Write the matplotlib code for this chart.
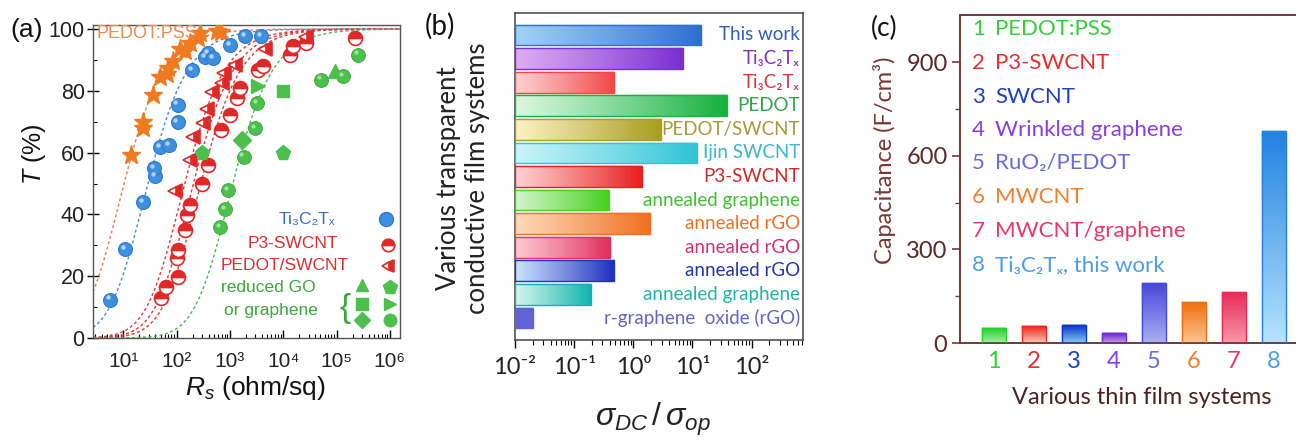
import numpy as np
import matplotlib
matplotlib.use('Agg')
import matplotlib.pyplot as plt
from matplotlib import transforms
from matplotlib.colors import to_rgb
from matplotlib.ticker import FixedLocator, NullFormatter, LogLocator

plt.rcParams['mathtext.fontset'] = 'custom'
plt.rcParams['mathtext.rm'] = 'Liberation Sans'
plt.rcParams['mathtext.it'] = 'Liberation Sans:italic'
plt.rcParams['mathtext.bf'] = 'Liberation Sans:bold'

# ---------------- panel (a) data ----------------
pedot_pss_rs = [14, 23.7, 23.7, 35.5, 49, 65, 69, 86, 115, 145, 178, 256, 275, 563, 690]
pedot_pss_t = [59.3, 68, 69.8, 78.7, 84.5, 85.5, 87.4, 89.5, 93.5, 92.8, 95.5, 97, 98.7, 99.2, 99]
ti3c2tx_rs = [5.6, 10.7, 23.7, 39, 38, 49, 73, 104, 104, 192, 340, 392, 487, 1000, 1920, 3900]
ti3c2tx_t = [12.4, 28.8, 44, 52.3, 55, 61.8, 62.4, 69.8, 75.5, 86.8, 90.9, 92.2, 90.6, 94.9, 97.8, 97.6]
p3_rs = [52, 63, 106, 100, 106, 144, 155, 178, 294, 392, 690, 1000, 1330, 1540, 3400, 4200,
         13300, 15400, 27000, 220000]
p3_t = [12.9, 16.6, 19.8, 26, 28.5, 35, 39.8, 43, 50, 56, 67.4, 72.3, 77.7, 81, 86.8, 88,
        91.7, 94.4, 95.5, 97]
pedot_swcnt_rs = [95, 178, 204, 316, 365, 455, 700, 760, 1240, 4600, 27000]
pedot_swcnt_t = [47.5, 57.6, 65, 69.6, 74, 79.7, 82.5, 85.8, 88.3, 93.5, 97.4]
go_circle_rs = [650, 800, 930, 1800, 2950, 3200, 52000, 133000, 250000]
go_circle_t = [35.9, 41.7, 47.8, 58.7, 68, 76, 83.6, 84.7, 91.7]
go_triangle = (93000, 86.3)
go_pentagon_rs = [294, 10000]
go_pentagon_t = [60, 60]
go_square = (10000, 79.8)
go_right = (3300, 81.6)
go_diamond = (1700, 64)
# sigma_DC/sigma_op of the dashed fit curves
fit_ratio = {'orange': 44, 'blue': 15.7, 'red1': 3.2, 'red2': 2.2, 'red3': 1.6, 'green': 0.4}

# ---------------- panel (b) data ----------------
b_labels = ['This work', 'Ti₃C₂Tₓ', 'Ti₃C₂Tₓ', 'PEDOT', 'PEDOT/SWCNT', 'Ijin SWCNT', 'P3-SWCNT',
            'annealed graphene', 'annealed rGO', 'annealed rGO', 'annealed rGO',
            'annealed graphene', 'r-graphene  oxide (rGO)']
b_values = [14, 7, 0.48, 38, 2.9, 12, 1.4, 0.39, 1.95, 0.41, 0.48, 0.195, 0.02]
b_light = ['#9fd0f5', '#dcaaf2', '#fdd0d0', '#d8f7de', '#faf0c0', '#c8f4f8', '#fdd0d0',
           '#d0f5c8', '#fdd8b8', '#fdc8d0', '#c8e0fa', '#d0f5ec', '#6262d8']
b_dark = ['#2f6fd0', '#7a2fd0', '#f04848', '#18b040', '#a89e20', '#30c4d6', '#e82020',
          '#48d020', '#f07020', '#e03060', '#2030c0', '#10b4ae', '#6262d8']
b_text = ['#2f5fb8', '#8030c0', '#e03040', '#30a448', '#a39c38', '#38b8c8', '#d02828',
          '#40c030', '#f07020', '#d83068', '#2434b0', '#20b4a8', '#6464c4']

# ---------------- panel (c) data ----------------
c_numbers = [1, 2, 3, 4, 5, 6, 7, 8]
c_names = ['PEDOT:PSS', 'P3-SWCNT', 'SWCNT', 'Wrinkled graphene', 'RuO₂/PEDOT', 'MWCNT',
           'MWCNT/graphene', 'Ti₃C₂Tₓ, this work']
c_values = [48, 55, 58, 32, 192, 133, 163, 680]
c_colors = ['#35cf3c', '#e83030', '#2040c0', '#8a3ee0', '#6a6ae0', '#f08030', '#e83a6a', '#4a9ee8']
c_top = ['#28d030', '#f02a20', '#1038c8', '#7030d0', '#4a48dc', '#f07010', '#e82c5c', '#2482e2']
c_bottom = ['#a8f2a8', '#fcc8b8', '#80ccf8', '#c8a0f2', '#a8b0f2', '#fcc494', '#f898a8', '#b4e2fc']

W, H = 1296, 440
fig = plt.figure(figsize=(W / 100, H / 100), dpi=100)


def fx(px):
    return px / W


def fy(py):
    return 1 - py / H


SANS_A = ['Liberation Sans', 'DejaVu Sans']
SANS_B = ['Lato', 'DejaVu Sans']

# ======================= panel (a) =======================
axA = fig.add_axes([fx(93), fy(338), (400 - 93) / W, (338 - 25) / H])
axA.set_xscale('log')
axA.set_xlim(2.7, 1.55e6)
axA.set_ylim(0, 101.3)

rs = np.logspace(np.log10(2.7), np.log10(1.55e6), 400)
curve_cols = {'orange': '#f07a48', 'blue': '#4a8ad8', 'red1': '#e23a3a', 'red2': '#e23a3a',
              'red3': '#e23a3a', 'green': '#4cb84c'}
for key, k in fit_ratio.items():
    t = 100.0 / (1 + 188.5 / (k * rs)) ** 2
    axA.plot(rs, t, ls=(0, (2.2, 1.8)), lw=1.0, color=curve_cols[key], zorder=2)

hl = transforms.ScaledTranslation(-1.6 / 72, 1.6 / 72, fig.dpi_scale_trans)

axA.plot(pedot_pss_rs, pedot_pss_t, ls='none', marker='*', ms=14, color='#f07a20',
         mec='#f07a20', zorder=4)
axA.plot(ti3c2tx_rs, ti3c2tx_t, ls='none', marker='o', ms=10, color='#3d8fe0',
         mec='#2f78cc', mew=0.8, zorder=4)
axA.plot(ti3c2tx_rs, ti3c2tx_t, ls='none', marker='o', ms=3.2, color='#cfe6fb', mew=0,
         alpha=0.8, zorder=5, transform=axA.transData + hl)
axA.plot(p3_rs, p3_t, ls='none', marker='o', ms=10, fillstyle='top', color='#e02828',
         markerfacecoloralt='white', mec='#e02828', mew=1.2, zorder=4)
axA.plot(pedot_swcnt_rs, pedot_swcnt_t, ls='none', marker='<', ms=10, fillstyle='right',
         color='#e02828', markerfacecoloralt='white', mec='#e02828', mew=1.2, zorder=4)
g = '#4cbf4c'
axA.plot(go_circle_rs, go_circle_t, ls='none', marker='o', ms=10, color=g, mec='#3aa83a',
         mew=0.6, zorder=4)
axA.plot(go_circle_rs, go_circle_t, ls='none', marker='o', ms=3, color='#b8ecb8', mew=0,
         alpha=0.8, zorder=5, transform=axA.transData + hl)
axA.plot([go_triangle[0]], [go_triangle[1]], ls='none', marker='^', ms=10, color=g, zorder=4)
axA.plot(go_pentagon_rs, go_pentagon_t, ls='none', marker='p', ms=11, color=g, zorder=4)
axA.plot([go_square[0]], [go_square[1]], ls='none', marker='s', ms=9, color=g, zorder=4)
axA.plot([go_right[0]], [go_right[1]], ls='none', marker='>', ms=10, color=g, zorder=4)
axA.plot([go_diamond[0]], [go_diamond[1]], ls='none', marker='D', ms=9, color=g, zorder=4)

axA.xaxis.set_major_locator(FixedLocator([1e1, 1e2, 1e3, 1e4, 1e5, 1e6]))
axA.xaxis.set_minor_locator(LogLocator(base=10, subs=np.arange(2, 10)))
axA.xaxis.set_minor_formatter(NullFormatter())
sup = {1: '¹', 2: '²', 3: '³', 4: '⁴', 5: '⁵', 6: '⁶'}
axA.set_xticklabels(['10' + sup[i] for i in range(1, 7)], family=SANS_A, fontsize=15,
                    color='#222222')
axA.set_yticks([0, 20, 40, 60, 80, 100])
axA.set_yticks([10, 30, 50, 70, 90], minor=True)
axA.set_yticklabels(['0', '20', '40', '60', '80', '100'], family=SANS_A, fontsize=15.5,
                    color='#222222')
axA.tick_params(axis='x', which='major', direction='in', length=6, width=1, pad=10)
axA.tick_params(axis='x', which='minor', direction='in', length=3, width=0.8)
axA.tick_params(axis='y', which='major', direction='inout', length=8, width=1, pad=2)
axA.tick_params(axis='y', which='minor', direction='in', length=3, width=0.8)
for s in axA.spines.values():
    s.set_color('#555555')
    s.set_linewidth(1.0)


def afrac(px, py):
    return ((px - 93) / 307, (338 - py) / 313)


fig.text(fx(97), fy(33), 'PEDOT:PSS', family=SANS_A, fontsize=13, color='#f08a50',
         ha='left', va='center', zorder=1)
fig.text(fx(10), fy(30), '(a)', family=SANS_A, fontsize=19, color='#111111',
         ha='left', va='center')
leg_txt = [('Ti₃C₂Tₓ', 307, 219, '#3a6fc0'), ('P3-SWCNT', 293, 243, '#d83030'),
           ('PEDOT/SWCNT', 285, 265, '#d83030'), ('reduced GO', 268, 287, '#3aa83a'),
           ('or graphene', 271, 310, '#3aa83a')]
for txt, px, py, col in leg_txt:
    fig.text(fx(px), fy(py), txt, family=SANS_A, fontsize=12.5, color=col,
             ha='center', va='center')
leg_mk = [((386, 219), dict(marker='o', ms=10, color='#3d8fe0', mec='#2f78cc')),
          ((388, 245), dict(marker='o', ms=9, fillstyle='top', color='#e02828',
                            markerfacecoloralt='white', mec='#e02828', mew=1.2)),
          ((388, 266), dict(marker='<', ms=9, fillstyle='right', color='#e02828',
                            markerfacecoloralt='white', mec='#e02828', mew=1.2)),
          ((362, 285), dict(marker='^', ms=9, color=g)),
          ((390, 287), dict(marker='p', ms=10, color=g)),
          ((362, 304), dict(marker='s', ms=8, color=g)),
          ((390, 304), dict(marker='>', ms=9, color=g)),
          ((362, 320), dict(marker='D', ms=8, color=g)),
          ((390, 320), dict(marker='o', ms=9, color=g))]
for (px, py), kw in leg_mk:
    ax_x, ax_y = afrac(px, py)
    axA.plot([ax_x], [ax_y], ls='none', transform=axA.transAxes, clip_on=False, zorder=6, **kw)
fig.text(fx(345), fy(309), '{', family=SANS_A, fontsize=24, color='#3aa83a',
         ha='center', va='center')
fig.text(fx(34), fy(154), '$T$ (%)', family=SANS_A, fontsize=18, color='#111111',
         ha='center', va='center', rotation=90)
fig.text(fx(255), fy(388), '$R_s$ (ohm/sq)', family=SANS_A, fontsize=19, color='#111111',
         ha='center', va='center')

# ======================= panel (b) =======================
axB = fig.add_axes([fx(515), fy(340), (803 - 515) / W, (340 - 13) / H])
axB.set_xscale('log')
axB.set_xlim(0.01, 740)
n_b = len(b_values)
axB.set_ylim(n_b - 1 + 0.93, -0.93)
x0 = 0.01
bh = 0.88
for i, v in enumerate(b_values):
    c0 = np.array(to_rgb(b_light[i]))
    c1 = np.array(to_rgb(b_dark[i]))
    nseg = 48
    edges = np.logspace(np.log10(x0), np.log10(v), nseg + 1)
    for j in range(nseg):
        tt = (j / (nseg - 1)) ** 1.1
        col = c0 + (c1 - c0) * tt
        axB.barh(i, edges[j + 1] - edges[j], left=edges[j], height=bh, color=col,
                 edgecolor=col, lw=0.3, zorder=2)
    axB.barh(i, v - x0, left=x0, height=bh, facecolor='none', edgecolor=b_dark[i],
             lw=1.0, zorder=3)
    axB.text(0.99, i, b_labels[i], transform=transforms.blended_transform_factory(
        axB.transAxes, axB.transData), ha='right', va='center', family=SANS_B,
        fontsize=13.5, color=b_text[i], zorder=4)
axB.set_yticks([])
axB.xaxis.set_major_locator(FixedLocator([1e-2, 1e-1, 1e0, 1e1, 1e2]))
axB.xaxis.set_minor_locator(LogLocator(base=10, subs=np.arange(2, 10)))
axB.xaxis.set_minor_formatter(NullFormatter())
axB.set_xticklabels(['10⁻²', '10⁻¹', '10⁰', '10¹', '10²'], family=SANS_B, fontsize=17,
                    color='#222222')
axB.tick_params(axis='x', which='major', direction='out', length=6, width=1, pad=6)
axB.tick_params(axis='x', which='minor', direction='out', length=3.5, width=0.8)
for s in axB.spines.values():
    s.set_color('#444444')
    s.set_linewidth(1.1)
fig.text(fx(425), fy(26), '(b)', family=SANS_B, fontsize=20, color='#111111',
         ha='left', va='center')
fig.text(fx(463), fy(178), 'Various transparent\nconductive film systems', family=SANS_B,
         fontsize=18.5, color='#222222', ha='center', va='center', rotation=90,
         linespacing=1.2, multialignment='center')
fig.text(fx(653), fy(419), r'$\sigma_{DC}\,/\,\sigma_{op}$', fontsize=23, color='#222222',
         ha='center', va='center')

# ======================= panel (c) =======================
axC = fig.add_axes([fx(960), fy(343), (1298 - 960) / W, (343 - 15) / H])
axC.set_xlim(0.16, 8.61)
axC.set_ylim(0, 1052)
bw = 0.6
for i, (n, v) in enumerate(zip(c_numbers, c_values)):
    cb = np.array(to_rgb(c_bottom[i]))
    ct = np.array(to_rgb(c_top[i]))
    nseg = 40
    edges = np.linspace(0, v, nseg + 1)
    for j in range(nseg):
        tt = j / (nseg - 1)
        col = cb + (ct - cb) * tt
        axC.bar(n, edges[j + 1] - edges[j], bottom=edges[j], width=bw, color=col,
                edgecolor=col, lw=0.3, zorder=2)
    axC.bar(n, v, width=bw, facecolor='none', edgecolor=c_top[i], lw=1.0, zorder=3)
axC.set_xticks(c_numbers)
axC.set_xticklabels([str(n) for n in c_numbers], family=SANS_B, fontsize=17)
for lab, col in zip(axC.get_xticklabels(), c_colors):
    lab.set_color(col)
axC.tick_params(axis='x', length=0, pad=6)
axC.set_yticks([0, 300, 600, 900])
axC.set_yticks([150, 450, 750], minor=True)
axC.set_yticklabels(['0', '300', '600', '900'], family=SANS_B, fontsize=17, color='#5a2828')
axC.tick_params(axis='y', which='major', direction='out', length=6, width=1.2,
                color='#6e3a3a', pad=3)
axC.tick_params(axis='y', which='minor', direction='out', length=3.5, width=1.0,
                color='#6e3a3a')
for s in axC.spines.values():
    s.set_color('#6e3a3a')
    s.set_linewidth(1.4)
legend_y = [29, 63, 97, 130, 163, 197, 231, 265]
for n, name, col, py in zip(c_numbers, c_names, c_colors, legend_y):
    fig.text(fx(972), fy(py), str(n), family=SANS_B, fontsize=16, color=col,
             ha='left', va='center')
    fig.text(fx(995), fy(py), name, family=SANS_B, fontsize=16, color=col,
             ha='left', va='center')
fig.text(fx(871), fy(28), '(c)', family=SANS_B, fontsize=19, color='#111111',
         ha='left', va='center')
fig.text(fx(884), fy(160), 'Capacitance (F/cm³)', family=SANS_B, fontsize=17,
         color='#7a3434', ha='center', va='center', rotation=90)
fig.text(fx(1142), fy(397), 'Various thin film systems', family=SANS_B, fontsize=17,
         color='#4a2222', ha='center', va='center')

fig.savefig('out.png', dpi=100)
